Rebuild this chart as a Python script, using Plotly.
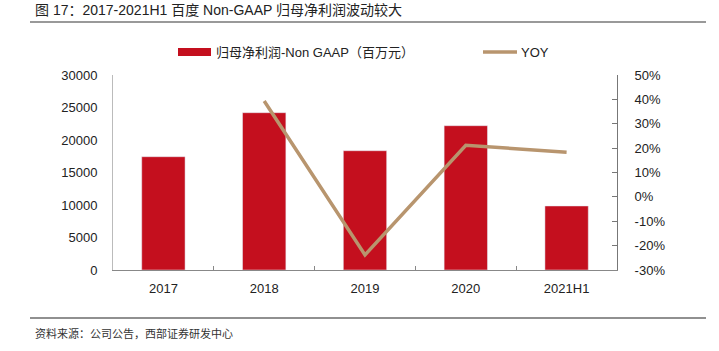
import plotly.graph_objects as go

categories = ["2017", "2018", "2019", "2020", "2021H1"]
profit = [17430, 24200, 18350, 22200, 9850]
yoy_x = ["2018", "2019", "2020", "2021H1"]
yoy = [39.3, -23.8, 21.2, 18.3]

left_ticks = [0, 5000, 10000, 15000, 20000, 25000, 30000]
right_ticks = [-30, -20, -10, 0, 10, 20, 30, 40, 50]

BAR = "#C40F1E"
LINE = "#B8956E"
FONT = "Liberation Sans, Arial, Noto Sans CJK SC"

fig = go.Figure()
fig.add_trace(go.Bar(x=categories, y=profit, marker_color=BAR, width=0.43,
                     name="归母净利润-Non GAAP（百万元）", showlegend=False))
fig.add_trace(go.Scatter(x=yoy_x, y=yoy, mode="lines", yaxis="y2",
                         line=dict(color=LINE, width=3.5), name="YOY", showlegend=False))

fig.update_layout(
    width=719, height=351,
    margin=dict(l=113, r=102, t=75, b=81),
    plot_bgcolor="white", paper_bgcolor="white",
    font=dict(family=FONT, size=13, color="#222"),
    xaxis=dict(showline=True, linecolor="#888", linewidth=1, ticks="inside",
               tickson="boundaries", ticklen=4, tickcolor="#888",
               ticklabelstandoff=6, showgrid=False),
    yaxis=dict(range=[0, 30000], tickvals=left_ticks,
               ticktext=[str(v) for v in left_ticks], showline=True, linecolor="#bbb",
               linewidth=1, ticks="", showgrid=False, zeroline=False,
               ticklabelstandoff=12),
    yaxis2=dict(range=[-30, 50], tickvals=right_ticks,
                ticktext=[f"{v}%" for v in right_ticks], overlaying="y", side="right",
                showline=True, linecolor="#777", linewidth=1, ticks="inside",
                ticklen=5, tickcolor="#777", showgrid=False, zeroline=False,
                ticklabelstandoff=14),
)

def px_x(x):
    return (x - 113) / 504
def px_y(y):
    return (270 - y) / 195

# Title and header rule
fig.add_annotation(xref="paper", yref="paper", x=px_x(33), y=px_y(10),
                   text="图 17：2017-2021H1 百度 Non-GAAP 归母净利润波动较大",
                   showarrow=False, xanchor="left", yanchor="middle",
                   font=dict(size=14, color="#222", family=FONT, weight="normal"))
fig.add_shape(type="line", xref="paper", yref="paper", x0=px_x(30), x1=px_x(706),
              y0=px_y(22), y1=px_y(22), line=dict(color="#777", width=1.5))
fig.add_shape(type="line", xref="paper", yref="paper", x0=px_x(30), x1=px_x(706),
              y0=px_y(318), y1=px_y(318), line=dict(color="#222", width=1.2))
fig.add_annotation(xref="paper", yref="paper", x=px_x(33), y=px_y(333),
                   text="资料来源：公司公告，西部证券研发中心", showarrow=False,
                   xanchor="left", yanchor="middle", font=dict(size=11, color="#333", family=FONT))

# Legend
fig.add_shape(type="rect", xref="paper", yref="paper", x0=px_x(178), x1=px_x(211),
              y0=px_y(56), y1=px_y(48), fillcolor=BAR, line=dict(width=0))
fig.add_annotation(xref="paper", yref="paper", x=px_x(214), y=px_y(52),
                   text="归母净利润-Non GAAP（百万元）", showarrow=False,
                   xanchor="left", yanchor="middle", font=dict(size=13, color="#222", family=FONT))
fig.add_shape(type="line", xref="paper", yref="paper", x0=px_x(483), x1=px_x(517),
              y0=px_y(52), y1=px_y(52), line=dict(color=LINE, width=3.5))
fig.add_annotation(xref="paper", yref="paper", x=px_x(519), y=px_y(52),
                   text="YOY", showarrow=False,
                   xanchor="left", yanchor="middle", font=dict(size=13, color="#222", family=FONT))

fig.write_html("out.html")
